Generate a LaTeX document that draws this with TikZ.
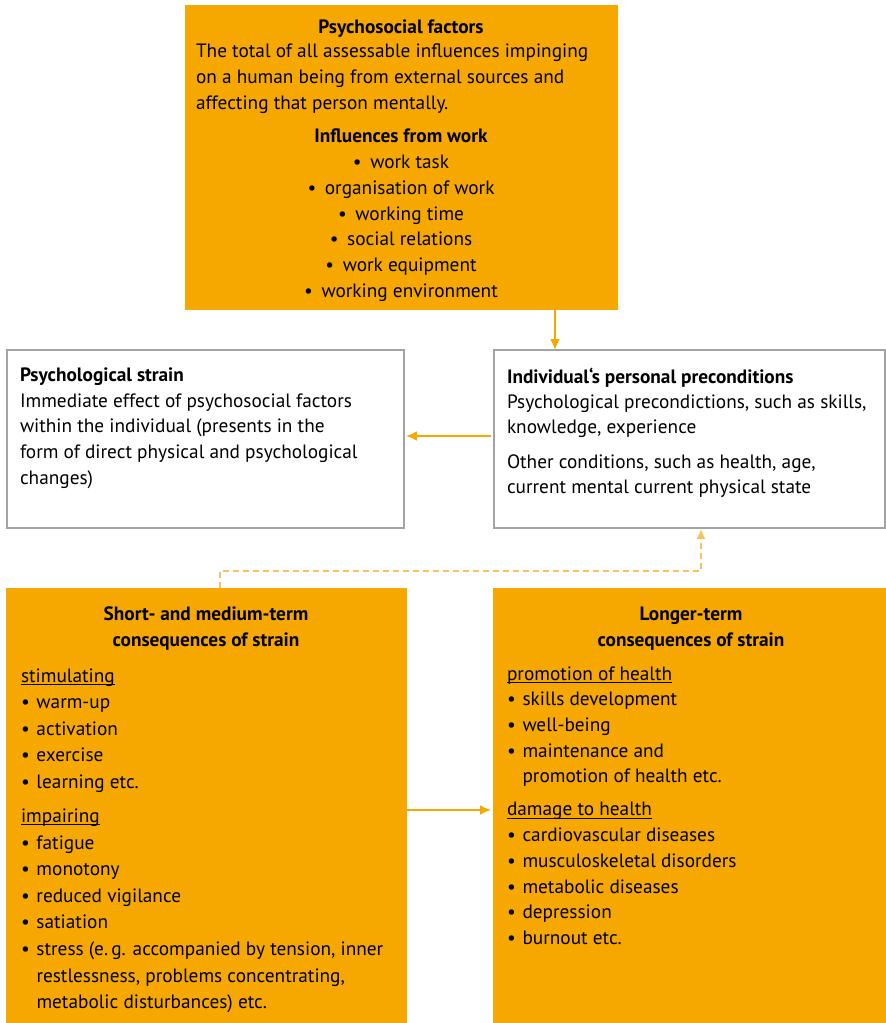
\documentclass[tikz,border=0pt]{standalone}
\usepackage{fontspec}
\setmainfont{PT Sans}
\usetikzlibrary{arrows.meta,calc}
\definecolor{org}{HTML}{F6A800}
\definecolor{orgl}{HTML}{F9C160}
\definecolor{bgray}{HTML}{A3A3A3}
\newcommand\bl{\makebox[15.5pt][l]{\textbullet}}
\newcommand\ind{\hspace*{15.5pt}}
\newcommand\bc{\textbullet\hspace{0.45em}}
\newsavebox\myulbox
\newcommand\myul[1]{\sbox\myulbox{#1}\rlap{\rule[-2.8pt]{\wd\myulbox}{1pt}}\usebox\myulbox}
\begin{document}
\begin{tikzpicture}[x=1pt,y=-1pt,
  obox/.style={fill=org, draw=none, anchor=north west, inner sep=0, outer sep=0},
  wbox/.style={fill=white, draw=bgray, line width=2pt, anchor=north west, inner sep=0, outer sep=0},
  txt/.style={inner sep=0, outer sep=0, font=\fontsize{19.3}{26}\selectfont, align=left, anchor=north west},
  ctxt/.style={txt, align=center, anchor=north},
  conn/.style={draw=org, line width=2pt, -{Latex[length=11pt,width=10pt]}},
  dconn/.style={draw=orgl, line width=1.5pt, dash pattern=on 6pt off 4pt, -{Latex[length=10pt,width=9pt]}}
]
\useasboundingbox (0,0) rectangle (886,1023);

% boxes
\node[obox, minimum width=433pt, minimum height=305pt] (pf) at (185,5) {};
\node[wbox, minimum width=397pt, minimum height=178pt] (ps) at (7,350) {};
\node[wbox, minimum width=391pt, minimum height=178pt] (ip) at (494,350) {};
\node[obox, minimum width=401pt, minimum height=435pt] (sm) at (6,588) {};
\node[obox, minimum width=393pt, minimum height=435pt] (lt) at (493,588) {};

% top box text
\node[ctxt] (pft) at (401,20) {\textbf{Psychosocial factors}};
\node[txt] (pfd) at (196,44) {The total of all assessable influences impinging\\
on a human being from external sources and\\
affecting that person mentally.};
\node[ctxt, font=\fontsize{19.3}{25.8}\selectfont] (pfi) at (401,129) {\textbf{Influences from work}\\
\bc work task\\
\bc organisation of work\\
\bc working time\\
\bc social relations\\
\bc work equipment\\
\bc working environment};

% psychological strain
\node[txt, font=\fontsize{19.3}{25.6}\selectfont] (pst) at (20,368) {\textbf{Psychological strain}\\
Immediate effect of psychosocial factors\\
within the individual (presents in the\\
form of direct physical and psychological\\
changes)};

% individual preconditions
\node[txt, font=\fontsize{19.3}{25.2}\selectfont] (ipt) at (507,368) {\textbf{Individual‘s personal preconditions}\\
Psychological precondictions, such as skills,\\
knowledge, experience\\[9pt]
Other conditions, such as health, age,\\
current mental current physical state};

% short and medium term
\node[ctxt] (smt) at (206,606.5) {\textbf{Short- and medium-term}\\
\textbf{consequences of strain}};
\node[txt, font=\fontsize{19.3}{26.6}\selectfont] (sml) at (21,668.5) {\myul{stimulating}\\
\bl warm-up\\
\bl activation\\
\bl exercise\\
\bl learning etc.\\[7.4pt]
\myul{impairing}\\
\bl fatigue\\
\bl monotony\\
\bl reduced vigilance\\
\bl satiation\\
\bl stress (e.\,g. accompanied by tension, inner\\
\ind restlessness, problems concentrating,\\
\ind metabolic disturbances) etc.};

% longer term
\node[ctxt] (ltt) at (691,606.5) {\textbf{Longer-term}\\
\textbf{consequences of strain}};
\node[txt, font=\fontsize{19.3}{25.7}\selectfont] (ltl) at (507,666.5) {\myul{promotion of health}\\
\bl skills development\\
\bl well-being\\
\bl maintenance and\\
\ind promotion of health etc.\\[7.3pt]
\myul{damage to health}\\
\bl cardiovascular diseases\\
\bl musculoskeletal disorders\\
\bl metabolic diseases\\
\bl depression\\
\bl burnout etc.};

% connectors
\draw[conn] (pf.south -| 555,0) -- (ip.north -| 555,0);
\draw[conn, shorten <=3pt, shorten >=2pt] (ip.west |- 0,436) -- (ps.east |- 0,436);
\draw[conn, shorten >=2pt] (sm.east |- 0,810) -- (lt.west |- 0,810);
\draw[dconn, shorten >=1pt] (sm.north -| 220,0) -- (220,571) -- (701,571) -- (ip.south -| 701,0);
\end{tikzpicture}
\end{document}
